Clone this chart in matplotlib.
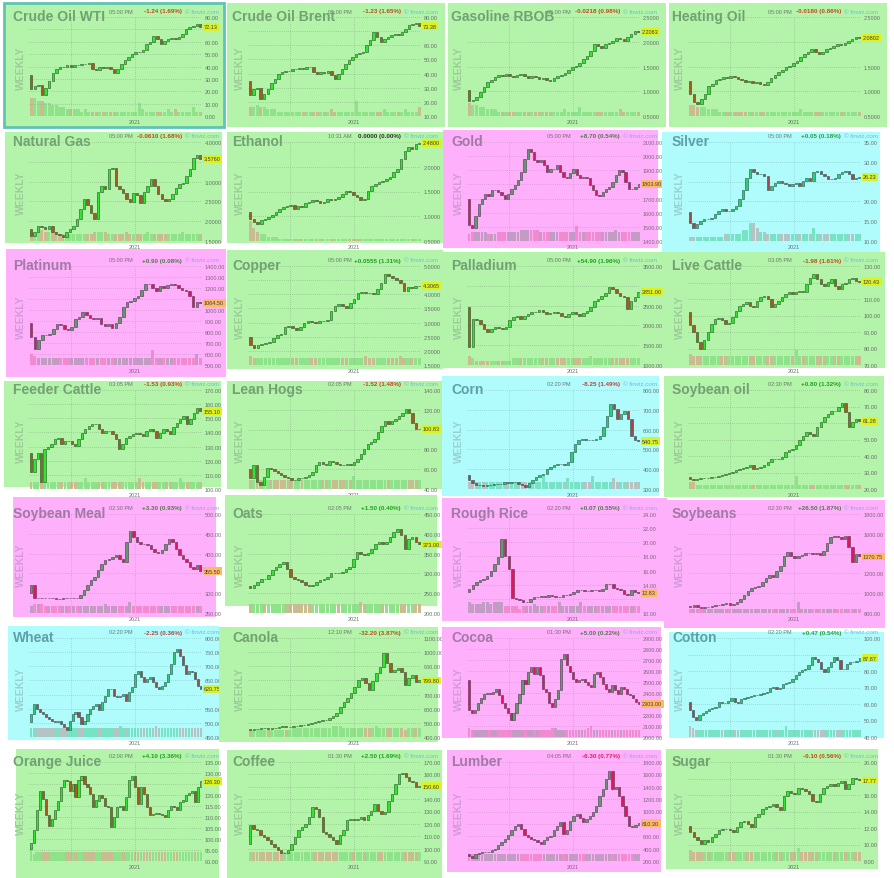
import numpy as np
import matplotlib.pyplot as plt
from matplotlib.patches import Rectangle

plt.rcParams['font.family'] = ['Liberation Sans', 'DejaVu Sans']

# ---------------- data ----------------
names = ["Crude Oil WTI", "Crude Oil Brent", "Gasoline RBOB", "Heating Oil",
         "Natural Gas", "Ethanol", "Gold", "Silver",
         "Platinum", "Copper", "Palladium", "Live Cattle",
         "Feeder Cattle", "Lean Hogs", "Corn", "Soybean oil",
         "Soybean Meal", "Oats", "Rough Rice", "Soybeans",
         "Wheat", "Canola", "Cocoa", "Cotton",
         "Orange Juice", "Coffee", "Lumber", "Sugar"]
themes = ["g", "g", "g", "g",
          "g", "g", "p", "c",
          "p", "g", "g", "g",
          "g", "g", "c", "g",
          "p", "g", "p", "p",
          "c", "g", "p", "c",
          "g", "g", "p", "g"]
times = ["05:00 PM", "05:00 PM", "05:00 PM", "05:00 PM",
         "05:00 PM", "10:31 AM", "05:00 PM", "05:00 PM",
         "05:00 PM", "05:00 PM", "05:00 PM", "03:05 PM",
         "03:05 PM", "02:05 PM", "02:20 PM", "02:30 PM",
         "02:30 PM", "02:05 PM", "02:20 PM", "02:30 PM",
         "02:20 PM", "12:10 PM", "01:30 PM", "02:20 PM",
         "02:00 PM", "01:30 PM", "04:05 PM", "01:30 PM"]
changes = ["-1.24 (1.69%)", "-1.23 (1.65%)", "-0.0218 (0.98%)", "-0.0180 (0.86%)",
           "-0.0610 (1.68%)", "0.0000 (0.00%)", "+8.70 (0.54%)", "+0.05 (0.18%)",
           "+0.90 (0.08%)", "+0.0555 (1.31%)", "+54.90 (1.96%)", "-1.98 (1.61%)",
           "-1.53 (0.93%)", "-1.52 (1.48%)", "-8.25 (1.49%)", "+0.80 (1.32%)",
           "+3.30 (0.93%)", "+1.50 (0.40%)", "+0.07 (0.55%)", "+26.50 (1.87%)",
           "-2.25 (0.36%)", "-32.20 (3.87%)", "+5.00 (0.22%)", "+0.47 (0.54%)",
           "+4.10 (3.36%)", "+2.50 (1.69%)", "-6.30 (0.77%)", "-0.10 (0.56%)"]
last_labels = ["72.13", "73.38", "2.2063", "2.0802",
               "3.5760", "2.4800", "1803.90", "26.23",
               "1064.50", "4.3065", "2851.00", "120.43",
               "155.10", "100.83", "540.75", "61.28",
               "355.50", "373.00", "12.83", "1370.75",
               "620.75", "799.80", "2303.00", "87.87",
               "126.30", "150.60", "810.30", "17.77"]
tick_lo = [0, 10, 0.5, 0.5, 1.5, 0.5, 1400, 10, 500, 1.5, 1000, 70, 100, 40,
           300, 20, 250, 200, 10, 800, 450, 400, 2000, 40, 90, 90, 200, 8]
tick_hi = [80, 80, 2.5, 2.5, 4.0, 2.5, 2100, 35, 1400, 5.0, 3500, 130, 170, 140,
           800, 80, 500, 450, 24, 1800, 800, 1100, 2900, 100, 135, 170, 1800, 20]
tick_step = [10, 10, 0.5, 0.5, 0.5, 0.5, 100, 5, 100, 0.5, 500, 10, 10, 20,
             100, 10, 50, 50, 2, 200, 50, 100, 100, 10, 5, 10, 200, 2]
decimals = [2, 2, 4, 4, 4, 4, 2, 2, 2, 4, 2, 2, 2, 2,
            2, 2, 2, 2, 2, 2, 2, 2, 2, 2, 2, 2, 2, 2]

# weekly closes (first value is the open of the first candle)
wti = [33, 22, 24, 25, 17, 23, 28, 35, 38, 40, 40, 41, 40, 41, 41, 42, 42, 43, 38, 37, 40, 39, 40, 38, 35,
       38, 42, 45, 48, 50, 52, 52, 53, 58, 60, 65, 62, 58, 61, 62, 63, 62, 64, 66, 70, 72, 73, 74, 72.13]
brent = [35, 24.6, 29, 30, 22, 25.8, 29, 33, 36, 40, 41, 42, 42, 43, 43, 44, 43, 44.6, 44.6, 41, 40, 41, 40.5,
         41.5, 39, 36, 40, 43.5, 47, 49.4, 51.7, 54, 54.5, 55, 60, 63.5, 69.4, 66, 62.3, 64.6, 66, 67, 68, 67,
         69.4, 71.7, 74, 75, 76, 73.38]
gasoline = [1.02, 0.80, 0.82, 0.88, 0.98, 1.08, 1.18, 1.22, 1.28, 1.32, 1.30, 1.34, 1.30, 1.28, 1.32, 1.35,
            1.30, 1.26, 1.30, 1.28, 1.24, 1.27, 1.22, 1.20, 1.26, 1.30, 1.32, 1.36, 1.42, 1.48, 1.52, 1.58,
            1.66, 1.72, 1.82, 1.95, 1.92, 1.88, 1.95, 1.98, 2.02, 2.08, 2.05, 2.02, 2.10, 2.15, 2.22, 2.2063]
heating = [1.20, 0.95, 0.78, 0.74, 0.85, 0.95, 1.10, 1.15, 1.22, 1.25, 1.28, 1.26, 1.30, 1.28, 1.25, 1.22,
           1.18, 1.20, 1.16, 1.18, 1.14, 1.12, 1.18, 1.26, 1.32, 1.38, 1.42, 1.48, 1.52, 1.58, 1.62, 1.70,
           1.75, 1.80, 1.85, 1.80, 1.76, 1.80, 1.85, 1.88, 1.92, 1.96, 1.94, 1.98, 2.02, 2.05, 2.10, 2.0802]
natgas = [1.80, 1.63, 1.72, 1.89, 1.85, 1.80, 1.89, 1.72, 1.68, 1.65, 1.60, 1.72, 1.80, 1.89, 2.05, 2.30, 2.56,
          2.40, 2.20, 2.05, 2.73, 2.90, 2.82, 3.31, 3.35, 2.90, 2.82, 2.70, 2.56, 2.48, 2.70, 2.65, 2.47, 2.73,
          2.90, 3.06, 2.90, 2.68, 2.56, 2.52, 2.56, 2.68, 2.85, 2.93, 2.97, 3.14, 3.31, 3.60, 3.68, 3.576]
ethanol = [1.09, 0.95, 0.89, 0.85, 0.92, 0.95, 0.99, 1.02, 1.09, 1.15, 1.19, 1.21, 1.22, 1.15, 1.21, 1.19, 1.26,
           1.29, 1.32, 1.30, 1.26, 1.29, 1.35, 1.33, 1.35, 1.39, 1.45, 1.52, 1.49, 1.42, 1.39, 1.32, 1.35, 1.52,
           1.62, 1.65, 1.70, 1.72, 1.75, 1.79, 1.89, 1.95, 2.15, 2.32, 2.39, 2.36, 2.45, 2.48]
gold = [1700, 1510, 1490, 1580, 1665, 1700, 1730, 1720, 1760, 1760, 1750, 1725, 1700, 1730, 1770, 1795, 1830,
        1890, 1980, 2050, 2030, 1970, 1960, 1970, 1935, 1890, 1910, 1910, 1935, 1890, 1855, 1845, 1880, 1910,
        1865, 1845, 1855, 1845, 1795, 1760, 1725, 1715, 1750, 1770, 1780, 1820, 1865, 1900, 1890, 1820, 1770,
        1770, 1780, 1803.9]
silver = [17.2, 14.6, 13.4, 14.2, 15.1, 15.5, 15.5, 15.9, 16.7, 17.6, 18.0, 17.6, 17.6, 18.0, 18.8, 20.5, 23.0,
          26.0, 28.1, 27.3, 26.8, 26.8, 26.4, 23.0, 23.9, 24.7, 25.2, 24.7, 24.3, 23.9, 24.3, 24.7, 23.9, 25.2,
          26.0, 25.2, 27.3, 27.7, 26.8, 26.4, 25.6, 25.6, 26.0, 26.8, 27.3, 27.7, 26.8, 25.6, 25.8, 26.23]
platinum = [885, 755, 650, 725, 770, 775, 785, 830, 870, 860, 830, 815, 845, 915, 940, 985, 955, 925, 915, 925,
            870, 855, 870, 840, 885, 940, 1030, 1070, 1085, 1110, 1125, 1180, 1240, 1240, 1200, 1170, 1215,
            1200, 1225, 1240, 1225, 1200, 1185, 1170, 1130, 1030, 1075, 1064.5]
copper = [2.48, 2.20, 2.10, 2.20, 2.26, 2.28, 2.32, 2.45, 2.55, 2.60, 2.85, 2.87, 2.80, 2.75, 2.85, 3.00, 3.05,
          3.02, 2.98, 3.05, 3.06, 3.08, 3.40, 3.58, 3.65, 3.58, 3.52, 3.70, 3.85, 4.05, 4.07, 4.05, 4.03, 4.00,
          4.20, 4.40, 4.70, 4.65, 4.58, 4.52, 4.40, 4.10, 4.25, 4.22, 4.28, 4.3065]
palladium = [2460, 1460, 2170, 2130, 2040, 1920, 1830, 1920, 1960, 1940, 1920, 1960, 2125, 2210, 2250, 2170,
             2250, 2290, 2330, 2330, 2390, 2330, 2290, 2310, 2330, 2310, 2250, 2210, 2290, 2330, 2290, 2250,
             2310, 2370, 2460, 2625, 2660, 2750, 2830, 2960, 2920, 2830, 2750, 2710, 2420, 2625, 2710, 2851]
live_cattle = [102, 94, 90, 84, 80, 85, 90, 95, 98, 98.5, 97, 95, 95.5, 99, 103, 106, 107, 108, 106, 105, 109,
               111, 112, 110, 105, 107, 109, 111, 113, 114, 113, 114, 115, 114, 119, 123, 125, 122, 119, 118,
               120, 122, 118, 116, 119, 120, 122, 123, 121, 120.43]
feeder_cattle = [125.8, 111.7, 121.1, 125.8, 104.7, 128.2, 129.4, 131.7, 135.2, 136.4, 131.7, 134.1, 134.1,
                 131.7, 130.5, 135.2, 139.9, 142.3, 144.6, 145.8, 145.8, 142.3, 139.9, 141.1, 141.1, 138.8,
                 135.2, 128.2, 131.7, 136.4, 137.6, 138.8, 139.9, 138.8, 137.6, 141.1, 142.3, 141.1, 136.4,
                 139.9, 142.3, 141.1, 138.8, 143.5, 147.0, 149.3, 151.7, 145.8, 149.3, 154.0, 157.5, 155.1]
lean_hogs = [60.7, 50.7, 64, 47, 44, 52, 61, 60.7, 58, 56, 54, 52.5, 50.7, 49, 49, 51.3, 50.7, 52.3, 54, 57, 64,
             67, 65.7, 64, 68, 67, 65.7, 64.7, 64, 65.7, 64, 67, 70.7, 75.7, 80.7, 85.7, 87.3, 90.7, 97.3, 104,
             109, 105.7, 109, 110.7, 114, 117, 120.7, 117, 107, 100.7, 100.83]
corn = [370, 345, 328, 320, 320, 317, 320, 322, 325, 325, 325, 333, 330, 333, 337, 325, 320, 312, 328, 345, 362,
        370, 378, 403, 412, 420, 428, 428, 420, 437, 487, 528, 550, 553, 550, 545, 550, 553, 570, 612, 670, 728,
        703, 655, 678, 695, 653, 570, 545, 540.75]
soybean_oil = [27.4, 25.8, 25.4, 25.8, 26.4, 26.4, 26.8, 27.4, 27.4, 28.0, 28.4, 28.8, 29.4, 30.4, 31.4, 32.4,
               32.8, 33.4, 34.4, 32.4, 32.8, 33.4, 34.4, 36.4, 38.0, 38.4, 38.4, 39.4, 42.4, 43.4, 44.4, 46.4,
               49.4, 52.4, 54.4, 53.4, 52.4, 57.4, 60.4, 63.4, 65.4, 67.4, 67.4, 69.4, 72.4, 66.4, 57.4, 60.4,
               62.4, 61.28]
soybean_meal = [300, 321, 287, 289, 288, 287, 288, 287, 286, 285, 287, 288, 287, 288, 287, 296, 308, 321, 333,
                342, 358, 375, 383, 387, 392, 396, 387, 379, 429, 458, 442, 429, 425, 423, 421, 412, 404, 402,
                408, 425, 437, 429, 412, 396, 387, 379, 367, 362, 371, 355.5]
oats = [267, 262, 271, 279, 287, 285, 296, 308, 317, 325, 329, 312, 292, 287, 283, 279, 271, 267, 271, 279, 283,
        287, 292, 300, 302, 300, 304, 312, 317, 337, 354, 350, 346, 352, 362, 375, 379, 375, 379, 392, 404, 412,
        396, 362, 387, 392, 379, 373]
rough_rice = [12.9, 13.4, 13.9, 14.4, 14.6, 14.8, 15.3, 16.0, 17.0, 17.9, 20.5, 18.1, 16.2, 12.1, 12.0, 11.8,
              11.5, 11.6, 12.0, 12.2, 12.3, 12.4, 12.3, 12.5, 12.4, 12.2, 12.3, 12.5, 12.6, 12.7, 12.9, 13.2,
              13.2, 13.1, 13.1, 13.2, 13.2, 13.1, 13.4, 14.1, 14.1, 13.6, 13.4, 13.2, 12.7, 12.5, 13.2, 12.9,
              12.83]
soybeans = [870, 860, 880, 860, 855, 860, 865, 870, 880, 885, 890, 897, 885, 890, 915, 945, 980, 1020, 1050,
            1060, 1070, 1110, 1150, 1180, 1160, 1225, 1275, 1375, 1415, 1375, 1360, 1375, 1390, 1405, 1410, 1400,
            1405, 1390, 1425, 1510, 1565, 1580, 1565, 1550, 1580, 1465, 1315, 1400, 1370.75]
wheat = [502, 532, 567, 550, 538, 532, 520, 514, 508, 502, 508, 496, 484, 473, 508, 532, 538, 520, 496, 508,
         532, 550, 561, 567, 544, 573, 596, 620, 620, 596, 590, 596, 602, 579, 608, 626, 673, 685, 661, 643, 655,
         661, 643, 626, 620, 632, 643, 673, 708, 750, 761, 738, 703, 673, 685, 679, 655, 632, 620.75]
canola = [459, 452, 459, 459, 461, 464, 459, 464, 466, 470, 476, 470, 474, 476, 480, 484, 487, 492, 498, 505,
          510, 517, 522, 534, 550, 568, 615, 650, 674, 710, 757, 803, 815, 780, 735, 795, 850, 897, 991, 920, 862,
          873, 885, 862, 768, 815, 838, 792, 799.8]
cocoa = [2515, 2245, 2215, 2245, 2305, 2350, 2395, 2400, 2395, 2410, 2440, 2380, 2305, 2260, 2215, 2155, 2215,
         2305, 2395, 2515, 2485, 2590, 2635, 2575, 2635, 2560, 2440, 2410, 2305, 2275, 2350, 2425, 2710, 2755,
         2650, 2590, 2530, 2500, 2515, 2530, 2500, 2470, 2455, 2575, 2590, 2545, 2485, 2440, 2410, 2470, 2425,
         2395, 2455, 2440, 2395, 2380, 2350, 2320, 2303]
cotton = [61.4, 56.4, 52.4, 50.4, 53.4, 54.8, 56.0, 56.8, 57.4, 58.4, 61.4, 60.4, 60.8, 62.0, 63.4, 61.4, 60.8,
          63.0, 63.4, 64.4, 64.8, 65.4, 65.4, 66.0, 66.8, 67.4, 69.4, 70.4, 68.8, 70.0, 72.0, 73.0, 73.4, 75.4,
          77.4, 79.4, 80.4, 81.4, 83.4, 88.4, 87.4, 85.4, 81.4, 79.4, 82.4, 85.4, 88.4, 86.4, 81.4, 81.4, 84.0,
          85.4, 85.4, 85.8, 87.87]
orange_juice = [95.6, 98, 104, 113, 122, 118, 111, 106, 109, 113, 117.5, 123.5, 127, 126.5, 122, 125, 119, 127,
                128.5, 125, 123.5, 120.5, 114.5, 117.5, 120, 118.5, 115, 114.5, 105.5, 110, 114.5, 115, 113, 119,
                127, 128.5, 123.5, 116, 123.5, 120.5, 114.5, 111, 111.5, 112, 111.5, 111, 110, 113, 115, 114.5,
                113, 117, 117.5, 120, 121, 122, 117, 123.5, 126.3]
coffee = [104.1, 118.8, 116.1, 115.3, 110.8, 109.5, 106.8, 104.1, 101.5, 98.8, 96.1, 96.7, 98.8, 104.1, 109.5,
          114.8, 117.5, 120.1, 125.5, 133.5, 132.1, 125.5, 113.5, 112.1, 109.5, 106.8, 104.1, 110.8, 114.8, 122.8,
          124.1, 122.8, 124.1, 125.5, 122.8, 126.8, 130.8, 136.1, 130.8, 128.1, 129.5, 138.8, 144.1, 152.1, 160.1,
          161.5, 157.5, 154.8, 153.5, 149.5, 150.6]
lumber = [307, 280, 253, 320, 333, 340, 345, 350, 375, 400, 453, 507, 560, 613, 693, 773, 800, 720, 613, 587,
          560, 533, 507, 480, 533, 587, 600, 693, 773, 827, 640, 693, 853, 933, 960, 900, 827, 880, 933, 987, 1093,
          1253, 1360, 1520, 1653, 1360, 1400, 1253, 1093, 933, 773, 747, 787, 810.3]
sugar = [12.3, 11.5, 10.9, 10.5, 10.1, 10.5, 10.3, 10.9, 11.3, 11.7, 11.9, 11.9, 11.7, 11.5, 12.1, 12.7, 12.9,
         12.5, 12.1, 13.3, 13.7, 14.3, 14.5, 14.7, 14.9, 14.5, 14.2, 15.9, 16.5, 16.3, 16.1, 16.9, 16.7, 16.5,
         16.1, 15.3, 15.1, 16.1, 16.9, 17.1, 17.3, 17.1, 17.5, 17.7, 16.7, 17.3, 18.1, 17.9, 17.77]

# relative weekly volume, one digit per candle
wti_vol = "8877665544 3333232222 2222222222 6322222232 3222242232 2322222222"
brent_vol = "4454433322 2222222222 2223222222 7222222232 2222322242 2232222222"
gasoline_vol = "6554433322 2222222222 2222223222 4222222222 2322222222 2222222222"
heating_vol = "5544433322 2222222222 2222222222 3222222222 2222222222 2222222222"
natgas_vol = "4345444433 3333333344 4433333433 3334333333 3334333333 3333333333"
ethanol_vol = "9643322211 1111111111 1111111111 1111111111 1111111111 1111111111"
gold_vol = "3444443334 4444445555 5544444444 4447444444 4444454444 4444444444"
silver_vol = "2222222222 3333355886 4433333333 3333363333 3333333333 3333333333"
platinum_vol = "5433333333 3333333333 3333333333 3337333333 3333353333 3333333333"
copper_vol = "4333333333 3333333333 3333333333 4333333334 3333335333 3333333333"
palladium_vol = "4322222222 2233333333 3333333333 3334333333 3333333333 3333333333"
live_cattle_vol = "5444444444 4444444444 4444444444 7444444444 4444444444 4444444444"
feeder_cattle_vol = "3333333333 3333335333 3333333333 3353333333 3333533333 3333333333"
lean_hogs_vol = "4444444444 4444444444 4444444444 6444444444 4444444444 4444444444"
corn_vol = "3333333333 3333333333 3633333353 3333363333 3533333333 3333333333"
soybean_oil_vol = "3322222222 2222222222 2222222222 6222222222 2222222222 2222222222"
soybean_meal_vol = "3444333333 3333333333 3433333353 3333333333 3333333333 3333333333"
oats_vol = "4444444444 4444444444 4444444444 5444444444 4444444444 4444444444"
rough_rice_vol = "5444554555 3333233343 3333353333 3533333333 3333333333 3333333333"
soybeans_vol = "2222222222 2222222222 2222222222 5222222222 2222222222 2222222222"
wheat_vol = "4444444444 4444444444 4444444444 5444444444 4454444444 4444444444"
canola_vol = "3333333333 3344444444 4445554444 4444454444 4443444444 4444444444"
cocoa_vol = "4333333333 3333333333 3333333344 3333333333 4533333333 3333333333"
cotton_vol = "5433333333 3333333333 3333333333 5333333333 3333333333 3333333333"
orange_juice_vol = "6344444444 4444444444 4444444444 4444444444 4444444444 4444444444"
coffee_vol = "4444444444 4444444444 4444444444 4444444444 4444444444 4444444444"
lumber_vol = "3333333333 3333333333 3333333333 3333333333 3333333333 3333333333"
sugar_vol = "5444444444 4444444444 4444444444 6444444444 4444444444 4444444444"

closes = [wti, brent, gasoline, heating, natgas, ethanol, gold, silver, platinum, copper, palladium,
          live_cattle, feeder_cattle, lean_hogs, corn, soybean_oil, soybean_meal, oats, rough_rice, soybeans,
          wheat, canola, cocoa, cotton, orange_juice, coffee, lumber, sugar]
volumes = [wti_vol, brent_vol, gasoline_vol, heating_vol, natgas_vol, ethanol_vol, gold_vol, silver_vol,
           platinum_vol, copper_vol, palladium_vol, live_cattle_vol, feeder_cattle_vol, lean_hogs_vol,
           corn_vol, soybean_oil_vol, soybean_meal_vol, oats_vol, rough_rice_vol, soybeans_vol, wheat_vol,
           canola_vol, cocoa_vol, cotton_vol, orange_juice_vol, coffee_vol, lumber_vol, sugar_vol]

# ---------------- layout / style ----------------
W, H = 894, 879
col_x = [29, 248, 467, 688]
row_y = [18, 143, 267, 391, 515, 639, 763]
CW, CH = 173, 99

# tinted panel rectangles (x0, y0, x1, y1) in pixels
tints = [(4, 4, 224, 128), (227, 4, 445, 128), (448, 4, 666, 128), (669, 4, 887, 128),
         (5, 133, 222, 244), (227, 133, 443, 244), (443, 131, 658, 249), (662, 133, 880, 253),
         (6, 250, 226, 378), (227, 251, 443, 370), (443, 253, 664, 369), (664, 253, 885, 369),
         (4, 382, 221, 488), (227, 382, 443, 490), (442, 377, 659, 497), (664, 377, 884, 498),
         (13, 498, 216, 618), (225, 496, 437, 607), (442, 499, 667, 622), (664, 501, 885, 629),
         (8, 627, 219, 741), (219, 628, 438, 743), (442, 628, 661, 739), (669, 633, 884, 739),
         (16, 750, 219, 879), (227, 751, 442, 879), (447, 751, 661, 873), (666, 750, 878, 870)]

THEMES = {
    'g': dict(bg='#b3f4aa', up='#2ee82e', down='#a85a1c', edge='#2a4f2a', vup='#8ee28a', vdown='#c8bc90',
              title='#73a173', weekly='#9ccd98', tick='#667466', grid='#86b080', box='#dcf21e',
              pos='#1f9f1f', neg='#c04a1c', fv='#6cc0c8', time='#6a786a'),
    'p': dict(bg='#ffb0fb', up='#5e9a6a', down='#e2145e', edge='#503450', vup='#c39cc3', vdown='#f28ad0',
              title='#a07aa6', weekly='#d49ad8', tick='#7e687e', grid='#c58ec5', box='#ffb865',
              pos='#4f7a4f', neg='#e0205a', fv='#9aa0f0', time='#7a6a7a'),
    'c': dict(bg='#b0fbfb', up='#2ad070', down='#9e4a4a', edge='#285050', vup='#78e2c4', vdown='#b4c4c4',
              title='#5fa0aa', weekly='#98d2d2', tick='#667878', grid='#86bcbc', box='#d6f22a',
              pos='#20a040', neg='#c04040', fv='#70b8e8', time='#687a7a'),
}


def fr(x0, y0, x1, y1):
    return [x0 / W, 1 - y1 / H, (x1 - x0) / W, (y1 - y0) / H]


def fp(x, y):
    return x / W, 1 - y / H


fig = plt.figure(figsize=(W / 100, H / 100), dpi=100)
fig.patch.set_facecolor('white')

for i, name in enumerate(names):
    t = THEMES[themes[i]]
    cx, cy = col_x[i % 4], row_y[i // 4]

    # tinted background
    bg = fig.add_axes(fr(*tints[i]), zorder=3 * i)
    bg.set_facecolor(t['bg'])
    bg.set_xticks([])
    bg.set_yticks([])
    for s in bg.spines.values():
        s.set_visible(False)
    if i == 0:
        bg.add_patch(Rectangle((0, 0), 1, 1, transform=bg.transAxes, fill=False,
                               ec='#5ec4b4', lw=2, clip_on=False))

    c = closes[i]
    n = len(c)
    xs = list(range(1, n))
    ups = [c[k] >= c[k - 1] for k in xs]

    # volume
    vols = [int(v) for v in volumes[i].replace(' ', '')]
    vax = fig.add_axes(fr(cx, cy, cx + CW, cy + CH), zorder=3 * i + 1)
    vax.patch.set_alpha(0)
    vax.axis('off')
    vax.set_xlim(0.4, n - 0.6)
    vax.set_ylim(0, 45)
    vx, vh, vc = [], [], []
    for k, v in zip(xs, vols):
        vx.append(k)
        vh.append(v)
        vc.append(t['vup'] if ups[k - 1] else t['vdown'])
    vax.bar(vx, vh, width=0.85, color=vc, linewidth=0)

    # price candles
    ax = fig.add_axes(fr(cx, cy, cx + CW, cy + CH), zorder=3 * i + 2)
    ax.patch.set_alpha(0)
    for s in ax.spines.values():
        s.set_visible(False)
    lo, hi, st, dec = tick_lo[i], tick_hi[i], tick_step[i], decimals[i]
    ticks = np.arange(lo, hi + st / 2, st)
    ax.set_ylim(lo, hi)
    ax.set_xlim(0.4, n - 0.6)
    ax.set_axisbelow(True)
    labels = ['' if abs(tk - c[-1]) < 0.07 * (hi - lo) else f'{tk:.{dec}f}' for tk in ticks]
    ax.yaxis.tick_right()
    ax.set_yticks(ticks)
    ax.set_yticklabels(labels)
    ax.set_xticks([])
    ax.tick_params(axis='y', length=0, pad=2.2, labelsize=4, labelcolor=t['tick'])
    ax.grid(axis='y', color=t['grid'], lw=0.5, ls=(0, (1, 2)))
    for f in (0.24, 0.61):
        ax.plot([f, f], [0, 1], transform=ax.transAxes, color=t['grid'], lw=0.5,
                ls=(0, (1, 2)), zorder=0.5)

    heights = [c[k] - c[k - 1] for k in xs]
    colors = [t['up'] if u else t['down'] for u in ups]
    ax.bar(xs, heights, bottom=c[:-1], width=0.7, color=colors, edgecolor=t['edge'],
           linewidth=0.4, zorder=2)

    # last price box
    ax.text(1.012, c[-1], last_labels[i], transform=ax.get_yaxis_transform(), fontsize=4,
            va='center', ha='left', color='#404040', zorder=6,
            bbox=dict(boxstyle='square,pad=0.25', fc=t['box'], ec='none'))

    ax.text(0.61, -0.03, '2021', transform=ax.transAxes, fontsize=4, ha='center', va='top',
            color=t['tick'])

    # header texts
    tf = fig.transFigure
    ax.text(*fp(cx + 80, cy - 6), times[i], transform=tf, fontsize=4, color=t['time'],
            va='center', ha='left', zorder=5)
    ch = changes[i]
    ccol = t['neg'] if ch.startswith('-') else (t['pos'] if ch.startswith('+') else '#303030')
    ax.text(*fp(cx + 153, cy - 6), ch, transform=tf, fontsize=4.5, color=ccol,
            fontweight='bold', va='center', ha='right', zorder=5)
    ax.text(*fp(cx + 156, cy - 6), '\u00a9 finviz.com', transform=tf, fontsize=4.5,
            color=t['fv'], va='center', ha='left', zorder=5)
    ax.text(*fp(cx - 16, cy - 1), name, transform=tf, fontsize=10, fontweight='bold',
            color=t['title'], va='center', ha='left', zorder=7)
    ax.text(*fp(cx - 8, cy + 50), 'WEEKLY', transform=tf, fontsize=7.5, fontweight='bold',
            color=t['weekly'], rotation=90, va='center', ha='center', zorder=5)

fig.savefig('out.png', dpi=100, facecolor='white')
